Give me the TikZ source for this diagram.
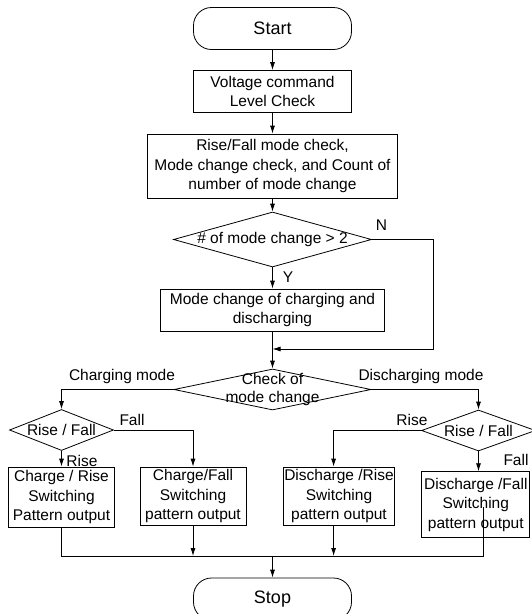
\documentclass[tikz,border=0pt]{standalone}
\usepackage{fontspec}
\setmainfont{Liberation Sans}
\usetikzlibrary{arrows.meta}
\usetikzlibrary{shapes.geometric}
\usetikzlibrary{positioning}

\tikzset{
  flowline/.style={line width=0.8pt},
  flowarrow/.style={flowline, -{Latex[length=8pt,width=5pt]}},
  terminal/.style={draw, line width=0.8pt, rounded corners=18pt,
    minimum width=158pt, minimum height=42pt,
    font=\fontsize{18}{21}\selectfont},
  process/.style={draw, line width=0.8pt, align=center, inner sep=0pt,
    font=\fontsize{15.5}{19.5}\selectfont},
  dectext/.style={align=center, inner sep=0pt,
    font=\fontsize{15.5}{18}\selectfont},
  decision/.style={draw, diamond, line width=0.8pt, inner sep=0pt,
    label={[dectext]center:#1}},
  lbl/.style={inner sep=0pt, font=\fontsize{15.5}{18}\selectfont}
}

\begin{document}
\begin{tikzpicture}[x=1pt, y=-1pt]
    \useasboundingbox (0,0) rectangle (531,614);

    % main column
    \node[terminal] (start) at (272.5,28.5) {Start};
    \node[process, minimum width=158pt, minimum height=42pt] (volt) at (272.5,91.5)
      {Voltage command\\Level Check};
    \node[process, minimum width=250pt, minimum height=64pt] (modechk) at (272.5,166)
      {Rise/Fall mode check,\\Mode change check, and Count of\\number of mode change};
    \node[decision={\# of mode change > 2}, minimum width=198pt, minimum height=55pt]
      (count) at (272.5,239.5) {};
    \node[process, minimum width=224pt, minimum height=42pt] (modechg) at (272.5,310)
      {Mode change of charging and\\discharging};
    \node[decision={Check of\\mode change}, minimum width=197pt, minimum height=41pt]
      (check) at (272.5,389.5) {};

    % charging side
    \node[decision={Rise / Fall}, minimum width=104pt, minimum height=41pt]
      (rfchg) at (61.5,430) {};
    \node[process, minimum width=105.5pt, minimum height=60pt] (chgrise) at (61.5,497)
      {Charge / Rise\\Switching\\Pattern output};
    \node[process, minimum width=106pt, minimum height=58.6pt] (chgfall) at (193,496.3)
      {Charge/Fall\\Switching\\pattern output};

    % discharging side
    \node[decision={Rise / Fall}, minimum width=114pt, minimum height=41pt]
      (rfdis) at (478.5,430.5) {};
    \node[process, minimum width=111pt, minimum height=58.6pt] (disrise) at (339,496.3)
      {Discharge /Rise\\Switching\\pattern output};
    \node[process, minimum width=108pt, minimum height=66pt] (disfall) at (475.8,504.7)
      {Discharge /Fall\\Switching\\pattern output};

    \node[terminal] (stop) at (272.5,599) {Stop};

    % labels
    \node[lbl] (nolbl) at (381.5,225) {N};
    \node[lbl] (yeslbl) at (288,277) {Y};
    \node[lbl] (chglbl) at (122,376) {Charging mode};
    \node[lbl] (dislbl) at (421,376) {Discharging mode};
    \node[lbl] (cfalllbl) at (132,420) {Fall};
    \node[lbl] (criselbl) at (82,461) {Rise};
    \node[lbl] (drisellbl) at (412,420) {Rise};
    \node[lbl] (dfalllbl) at (516,460) {Fall};

    \coordinate (nreturn) at (433.5,349);
    \coordinate (merge) at (272.5,556);
    \coordinate (distail) at (483,507);

    % connectors
    \draw[flowarrow] (start) -- (volt);
    \draw[flowarrow] (volt) -- (modechk);
    \draw[flowarrow] (modechk) -- (count);
    \draw[flowarrow] (count) -- (modechg);
    \draw[flowarrow] (count.east) -| (nreturn) -- (nreturn -| modechg.south);
    \draw[flowarrow] (modechg) -- (check);
    \draw[flowarrow] (check.west) -| (rfchg.north);
    \draw[flowarrow] (check.east) -| (rfdis.north);
    \draw[flowarrow] (rfchg) -- (chgrise);
    \draw[flowarrow] (rfchg.east) -| (chgfall.north);
    \draw[flowarrow] (rfdis.west) -| ([xshift=-5.4pt]disrise.north);
    \draw[flowarrow] (rfdis.south) -- (rfdis.south |- disfall.north);

    \draw[flowline] (chgrise.south) |- (merge);
    \draw[flowline] (distail) |- (merge);
    \draw[flowarrow] (chgfall.south) -- (chgfall.south |- merge);
    \draw[flowarrow] ([xshift=-5.4pt]disrise.south) -- ([xshift=-5.4pt]disrise.south |- merge);
    \draw[flowarrow] (merge) -- (stop);
\end{tikzpicture}
\end{document}
